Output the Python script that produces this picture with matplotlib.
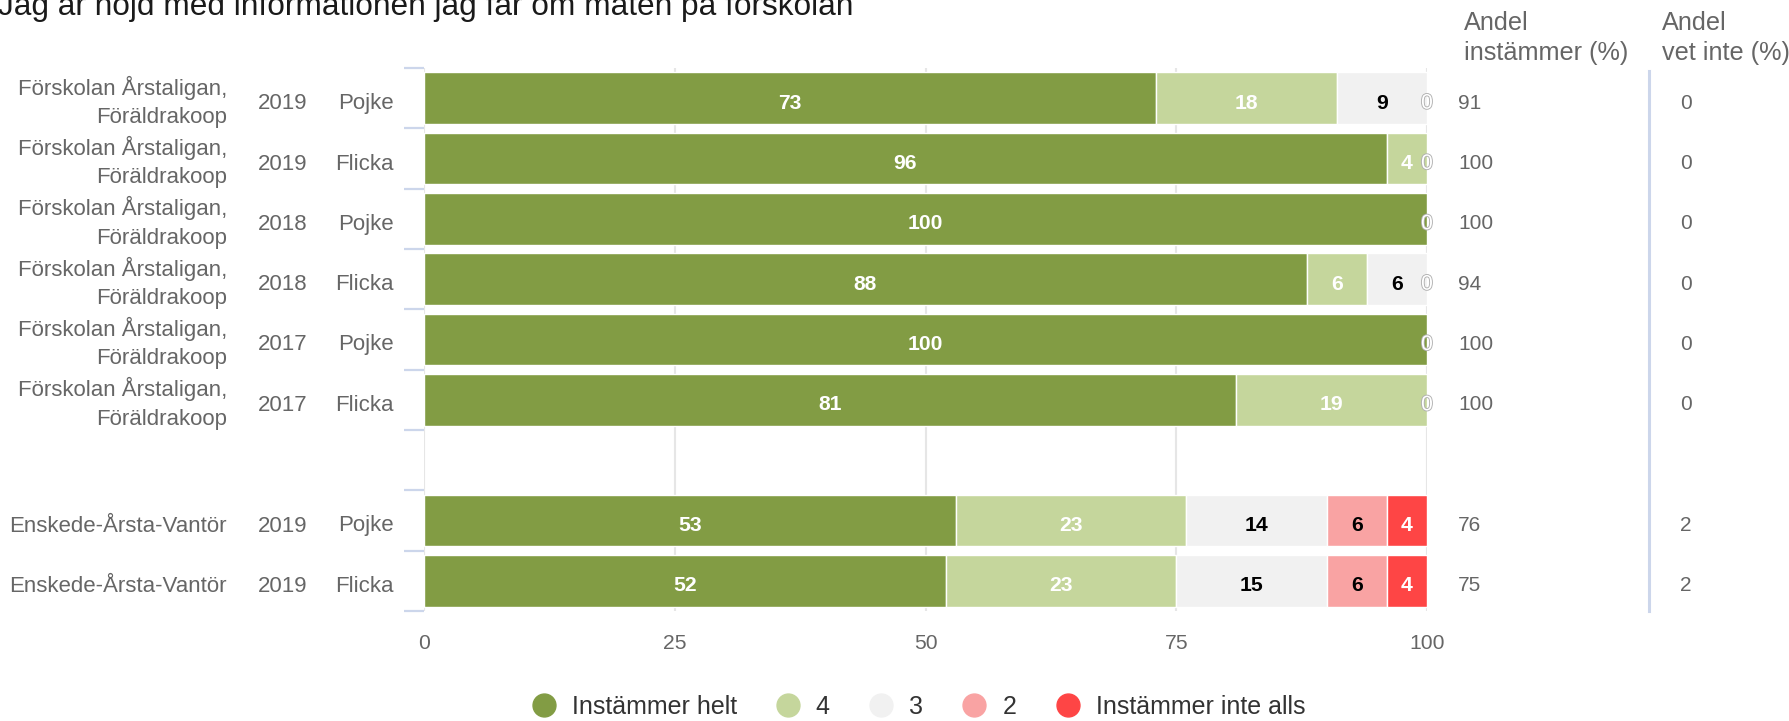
import numpy as np
import matplotlib
matplotlib.use("Agg")
import matplotlib.pyplot as plt
from matplotlib import patheffects as pe
from matplotlib.transforms import offset_copy
from matplotlib.lines import Line2D

plt.rcParams['font.family'] = ['Liberation Sans', 'DejaVu Sans']

# Data
title = "Jag är nöjd med informationen jag får om maten på förskolan"
units = ["Förskolan Årstaligan,\nFöräldrakoop"] * 6 + [None, "Enskede-Årsta-Vantör", "Enskede-Årsta-Vantör"]
years = ["2019", "2019", "2018", "2018", "2017", "2017", None, "2019", "2019"]
sexes = ["Pojke", "Flicka", "Pojke", "Flicka", "Pojke", "Flicka", None, "Pojke", "Flicka"]

series_names = ["Instämmer helt", "4", "3", "2", "Instämmer inte alls"]
helt = [73, 96, 100, 88, 100, 81, None, 53, 52]
s4 = [18, 4, 0, 6, 0, 19, None, 23, 23]
s3 = [9, 0, 0, 6, 0, 0, None, 14, 15]
s2 = [0, 0, 0, 0, 0, 0, None, 6, 6]
inte_alls = [0, 0, 0, 0, 0, 0, None, 4, 4]
series = [helt, s4, s3, s2, inte_alls]

andel_instammer = [91, 100, 100, 94, 100, 100, None, 76, 75]
andel_vet_inte = [0, 0, 0, 0, 0, 0, None, 2, 2]

colors = ["#829c44", "#c5d69c", "#f1f1f1", "#f9a3a3", "#fe4545"]
label_colors = ["white", "white", "black", "black", "white"]

W, H = 1789, 721
fig = plt.figure(figsize=(W / 100, H / 100), dpi=100)
ax = fig.add_axes([424 / W, (H - 611) / H, 1003 / W, 543 / H])

rows = np.arange(len(helt))
n = len(rows)
ax.set_xlim(0, 100)
ax.set_ylim(n - 0.5, -0.5)

lab_tr = offset_copy(ax.transData, fig=fig, y=-10.5, units='dots')
cum = np.zeros(n)
zero_spots = set()
for vals, c, lc in zip(series, colors, label_colors):
    for i in rows:
        v = vals[i]
        if v is None:
            continue
        if v == 0:
            if i < 6:
                zero_spots.add((i, cum[i]))
            continue
        ax.barh(i, v, left=cum[i], height=0.86, color=c, edgecolor='white', linewidth=1.0, zorder=2)
        ax.text(cum[i] + v / 2, i, str(v), ha='center', va='baseline', fontsize=15.2,
                fontweight='bold', color=lc, transform=lab_tr, zorder=3)
        cum[i] += v

for i, x in zero_spots:
    t = ax.text(x, i, "0", ha='center', va='baseline', fontsize=15.2,
                color='white', transform=lab_tr, zorder=4)
    t.set_path_effects([pe.Stroke(linewidth=1.3, foreground='#b0b0b0'), pe.Normal()])

# axes styling
for s in ax.spines.values():
    s.set_visible(False)
ax.set_xticks([0, 25, 50, 75, 100])
ax.set_xticklabels(["0", "25", "50", "75", "100"])
ax.grid(axis='x', color='#e6e6e6', linewidth=1.5)
ax.set_axisbelow(True)
ax.tick_params(axis='x', length=0, pad=16.5, labelsize=15.2, labelcolor='#666666')
ax.set_yticks([])
ax.set_yticks(np.arange(-0.5, n, 1), minor=True)
ax.tick_params(axis='y', which='minor', length=14.4, width=1.6, color='#ccd6eb', direction='out')

# left category labels
ytr = ax.get_yaxis_transform()
one_line = offset_copy(ytr, fig=fig, y=-11, units='dots')
first_line = offset_copy(ytr, fig=fig, y=3.5, units='dots')
second_line = offset_copy(ytr, fig=fig, y=-25, units='dots')
lab_kw = dict(fontsize=16.0, color='#666666', va='baseline')
for i in rows:
    if units[i] is None:
        continue
    parts = units[i].split("\n")
    if len(parts) == 2:
        ax.text(-0.1964, i, parts[0], ha='right', transform=first_line, **lab_kw)
        ax.text(-0.1964, i, parts[1], ha='right', transform=second_line, **lab_kw)
    else:
        ax.text(-0.1964, i, parts[0], ha='right', transform=one_line, **lab_kw)
    ax.text(-0.1411, i, years[i], ha='center', transform=one_line, **lab_kw)
    ax.text(-0.0299, i, sexes[i], ha='right', transform=one_line, **lab_kw)

# right value columns
val_tr = offset_copy(ytr, fig=fig, y=-10.5, units='dots')
for i in rows:
    if andel_instammer[i] is None:
        continue
    ax.text(1.0309, i, str(andel_instammer[i]), ha='left', va='baseline', fontsize=15,
            color='#666666', transform=val_tr)
    ax.text(1.2522, i, str(andel_vet_inte[i]), ha='left', va='baseline', fontsize=15,
            color='#666666', transform=val_tr)

sep = Line2D([1.2213, 1.2213], [0, 0.995], transform=ax.transAxes, color='#ccd6eb',
             linewidth=2.2, clip_on=False)
ax.add_artist(sep)

hdr_kw = dict(fontsize=18.2, color='#666666', va='baseline', ha='left')
fig.text(1464 / W, 1 - 30 / H, "Andel", **hdr_kw)
fig.text(1464 / W, 1 - 60 / H, "instämmer (%)", **hdr_kw)
fig.text(1662 / W, 1 - 30 / H, "Andel", **hdr_kw)
fig.text(1662 / W, 1 - 60 / H, "vet inte (%)", **hdr_kw)

# title (cut at the top as in the reference)
fig.text(-2 / W, 1 - 15.5 / H, title, fontsize=22.8, color='#1a1a1a', va='baseline', ha='left')

# legend
handles = [Line2D([], [], marker='o', linestyle='', markersize=16.5, color=c) for c in colors]
fig.legend(handles, series_names, loc='center', bbox_to_anchor=(918 / W, 1 - 707 / H), ncol=5,
           frameon=False, fontsize=18, handlelength=1.0, handletextpad=0.62,
           columnspacing=1.55, labelcolor='#333333', borderpad=0, borderaxespad=0)

fig.savefig("out.png", dpi=100)
